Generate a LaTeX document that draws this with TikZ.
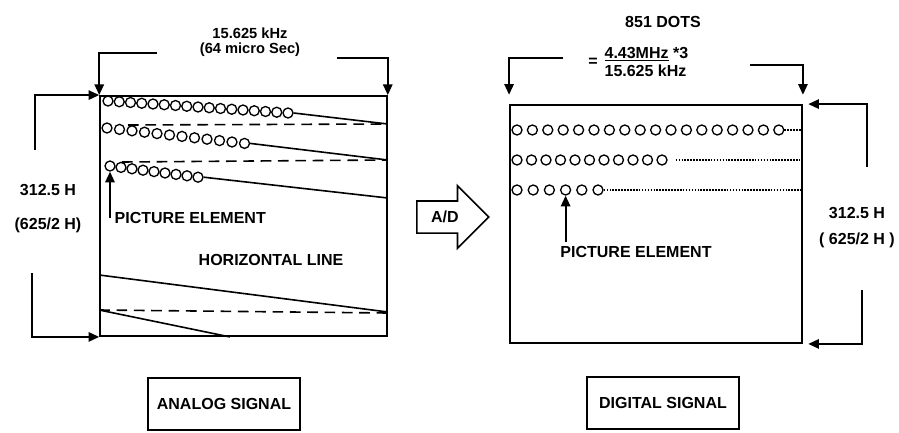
\documentclass[tikz,border=0pt]{standalone}
\usepackage{fontspec}
\setmainfont{Liberation Sans}
\usetikzlibrary{arrows.meta,shapes.arrows}
\begin{document}
\begin{tikzpicture}[x=0.75pt, y=-0.75pt, font=\bfseries\fontsize{12}{14}\selectfont]
    \tikzstyle{scanbox}=[draw=black, line width=1.4pt, inner sep=0pt]
    \tikzstyle{tagbox}=[draw=black, line width=1.2pt, minimum width=114pt, minimum height=39pt]
    \tikzstyle{pel}=[circle, draw=black, line width=1pt, minimum size=7.5pt, inner sep=0pt]
    \tikzstyle{dimarrow}=[line width=1.4pt, -{Triangle[length=8pt,width=7pt]}]
    \tikzstyle{scanline}=[line width=1.2pt]
    \tikzstyle{blank}=[scanline, dash pattern=on 8pt off 5pt]
    \tikzstyle{sampled}=[scanline, densely dotted]

    \useasboundingbox (0,0) rectangle (899,432);

    \node[scanbox, minimum width=215pt, minimum height=180pt] (lbox) at (243.5,216) {};
    \node[scanbox, minimum width=219pt, minimum height=178.5pt] (rbox) at (656,224) {};

    \node[align=center, inner sep=1pt, font=\bfseries\fontsize{11}{11.5}\selectfont] (lfreq) at (250,42) {15.625 kHz\\(64 micro Sec)};
    \coordinate (lt1) at (157,53);
    \coordinate (lt2) at (337,58);
    \draw[dimarrow] (lt1) -| (lbox.north west);
    \draw[dimarrow] (lt2) -| (lbox.north east);

    \node (lh1) at (48,190) {312.5 H};
    \node (lh2) at (48,225) {(625/2 H)};
    \coordinate (ls1) at (35,150);
    \coordinate (ls2) at (32,273);
    \draw[dimarrow] (ls1) |- (lbox.north west);
    \draw[dimarrow] (ls2) |- (lbox.south west);

    \foreach \i in {0,...,16}
        \node[pel] (la\i) at ({108+11.25*\i},{101+0.75*\i}) {};
    \foreach \i in {0,...,11}
        \node[pel] (lb\i) at ({107+12.5*\i},{128+1.4*\i}) {};
    \foreach \i in {0,...,8}
        \node[pel] (lc\i) at ({110+11*\i},{166+1.4*\i}) {};
    \draw[scanline] (la16.east) -- (lbox.east |- 0,124);
    \draw[blank] (128,125) -- (lbox.east |- 0,124);
    \draw[scanline] (lb11.east) -- (lbox.east |- 0,160);
    \draw[blank] (122,162) -- (lbox.east |- 0,160);
    \draw[scanline] (lc8.east) -- (lbox.east |- 0,198);
    \draw[scanline] (lbox.west |- 0,275) -- (lbox.east |- 0,312);
    \draw[blank] (lbox.west |- 0,310) -- (lbox.east |- 0,313);
    \draw[scanline] (lbox.west |- 0,310) -- (230,0 |- lbox.south);

    \node[anchor=west] (lpe) at (110,218) {PICTURE ELEMENT};
    \draw[dimarrow] (lc0 |- lpe.center) -- (lc0.south);
    \node (hline) at (271,260) {HORIZONTAL LINE};

    \node (dots) at (663,22) {851 DOTS};
    \node (eq) at (593,62) {=};
    \node[anchor=south west, inner sep=1pt] (num) at (603,63) {\underline{4.43MHz} *3};
    \node[anchor=north west, inner sep=1pt] (den) at (603,63) {15.625 kHz};
    \coordinate (rt1) at (563,58);
    \coordinate (rt2) at (750,65);
    \draw[dimarrow, shorten >=7pt] (rt1) -| (rbox.north west);
    \draw[dimarrow, shorten >=7pt] (rt2) -| (rbox.north east);

    \node (rh1) at (857,213) {312.5 H};
    \node (rh2) at (857,240) {( 625/2 H )};
    \coordinate (rs1) at (867,167);
    \coordinate (rs2) at (862,290);
    \draw[dimarrow, shorten >=4pt] (rs1) |- (rbox.north east);
    \draw[dimarrow, shorten >=4pt] (rs2) |- (rbox.south east);

    \foreach \i in {0,...,17}
        \node[pel] (ra\i) at ({517+15.4*\i},130) {};
    \foreach \i in {0,...,10}
        \node[pel] (rb\i) at ({517+14.5*\i},160) {};
    \foreach \i in {0,...,5}
        \node[pel] (rc\i) at ({517+16.2*\i},190) {};
    \draw[sampled] (ra17.east) -- (rbox.east |- 0,130);
    \draw[sampled] ([xshift=6pt]rb10.east) -- (rbox.east |- 0,160);
    \draw[sampled] (rc5.east) -- (rbox.east |- 0,190);

    \node (rpe) at (636,252) {PICTURE ELEMENT};
    \draw[dimarrow] (rc3 |- rpe.north) -- (rc3.south);

    \node[single arrow, draw=black, line width=1.2pt, minimum height=54pt, minimum width=47pt,
          single arrow head extend=8pt, anchor=west] (ad) at (416,217) {A/D};

    \node[tagbox] (analog) at (224,404) {ANALOG SIGNAL};
    \node[tagbox] (digital) at (663,403) {DIGITAL SIGNAL};
\end{tikzpicture}
\end{document}
